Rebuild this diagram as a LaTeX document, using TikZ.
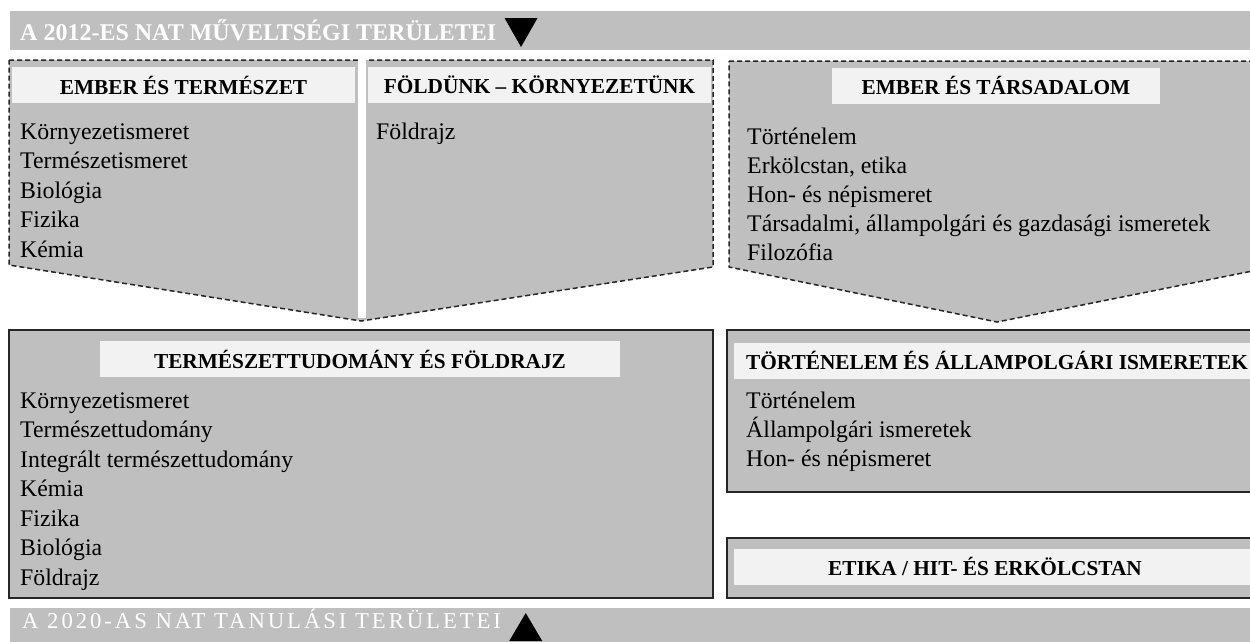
\documentclass[tikz,border=0pt]{standalone}
\usepackage{fontspec}
\setmainfont{Liberation Serif}
\newfontfamily\spacedfont[LetterSpace=13]{Liberation Serif}
\usetikzlibrary{positioning}
\definecolor{areagray}{RGB}{191,191,191}
\definecolor{headgray}{RGB}{242,242,242}
\definecolor{linegray}{RGB}{38,38,38}
\tikzstyle{area}=[fill=areagray,draw=linegray,line width=1.5pt,dash pattern=on 5pt off 3pt]
\tikzstyle{subject}=[fill=areagray,draw=linegray,line width=2.4pt]
\tikzstyle{head}=[fill=headgray,minimum height=36pt,inner sep=0pt,font=\bfseries\fontsize{21.3}{24}\selectfont]
\tikzstyle{headtext}=[inner sep=0pt,font=\bfseries\fontsize{21.3}{24}\selectfont]
\tikzstyle{item}=[anchor=base west,inner sep=0pt,font=\fontsize{23.8}{28}\selectfont]
\tikzstyle{bar}=[fill=areagray]
\tikzstyle{bartitle}=[anchor=base west,inner sep=0pt,text=white]

\begin{document}
\begin{tikzpicture}[x=1pt,y=-1pt]
\useasboundingbox (0,0) rectangle (1250,641);
\clip (0,0) rectangle (1250,641);
% 2012 bar
\fill[bar] (10,11) rectangle (1250,50);
\node[bartitle,font=\bfseries\fontsize{24}{27}\selectfont] (t12) at (20,40) {A 2012-ES NAT MŰVELTSÉGI TERÜLETEI};
\fill (t12.base east) ++(8,-22) -- ++(33,0) -- ++(-16.5,29) -- cycle;
% old areas
\draw[area] (9,60) -- (713,60) -- (713,267) -- (361,321) -- (9,265) -- cycle;
\fill[white] (357.5,56) rectangle (365.5,318);
\draw[area] (729,61) -- (1270,61) -- (1270,267.5) -- (997,322) -- (729,267) -- cycle;
\node[head,minimum width=343pt] (hET) at (183.5,85) {EMBER ÉS TERMÉSZET};
\node[head,minimum width=343pt] (hFK) at (539.5,85) {FÖLDÜNK – KÖRNYEZETÜNK};
\node[head,minimum width=328pt] (hES) at (996,85.5) {EMBER ÉS TÁRSADALOM};
\node[item] (a1) at (20,139) {Környezetismeret};
\node[item] (a2) at (20,168.5) {Természetismeret};
\node[item] (a3) at (20,198) {Biológia};
\node[item] (a4) at (20,227.5) {Fizika};
\node[item] (a5) at (20,257) {Kémia};
\node[item] (b1) at (376,139) {Földrajz};
\node[item] (c1) at (747,144) {Történelem};
\node[item] (c2) at (747,173) {Erkölcstan, etika};
\node[item] (c3) at (747,202) {Hon- és népismeret};
\node[item] (c4) at (747,231) {Társadalmi, állampolgári és gazdasági ismeretek};
\node[item] (c5) at (747,260) {Filozófia};
% new subjects
\draw[subject] (9,330) rectangle (713,598);
\draw[subject] (727,330) rectangle (1270,492);
\draw[subject] (727,538) rectangle (1270,598);
\node[head,minimum width=520pt] (hTF) at (360,359) {TERMÉSZETTUDOMÁNY ÉS FÖLDRAJZ};
\node[head,minimum width=536pt,anchor=west] (hTA) at (734,360.5) {};
\node[headtext,anchor=west] (tTA) at (746,360.5) {TÖRTÉNELEM ÉS ÁLLAMPOLGÁRI ISMERETEK};
\node[head,minimum width=536pt,anchor=west] (hEH) at (734,566.5) {};
\node[headtext] (tEH) at (985,566.5) {ETIKA / HIT- ÉS ERKÖLCSTAN};
\node[item] (d1) at (20,408) {Környezetismeret};
\node[item] (d2) at (20,437.5) {Természettudomány};
\node[item] (d3) at (20,467) {Integrált természettudomány};
\node[item] (d4) at (20,496.5) {Kémia};
\node[item] (d5) at (20,526) {Fizika};
\node[item] (d6) at (20,555.5) {Biológia};
\node[item] (d7) at (20,585) {Földrajz};
\node[item] (e1) at (746,408) {Történelem};
\node[item] (e2) at (746,437) {Állampolgári ismeretek};
\node[item] (e3) at (746,466) {Hon- és népismeret};
% 2020 bar
\fill[bar] (10,608) rectangle (1250,645);
\node[bartitle,font=\spacedfont\fontsize{22.7}{26}\selectfont] (t20) at (22,628) {A 2020-AS NAT TANULÁSI TERÜLETEI};
\fill (t20.base east) ++(8,13) -- ++(33,0) -- ++(-16.5,-28) -- cycle;
\end{tikzpicture}
\end{document}
